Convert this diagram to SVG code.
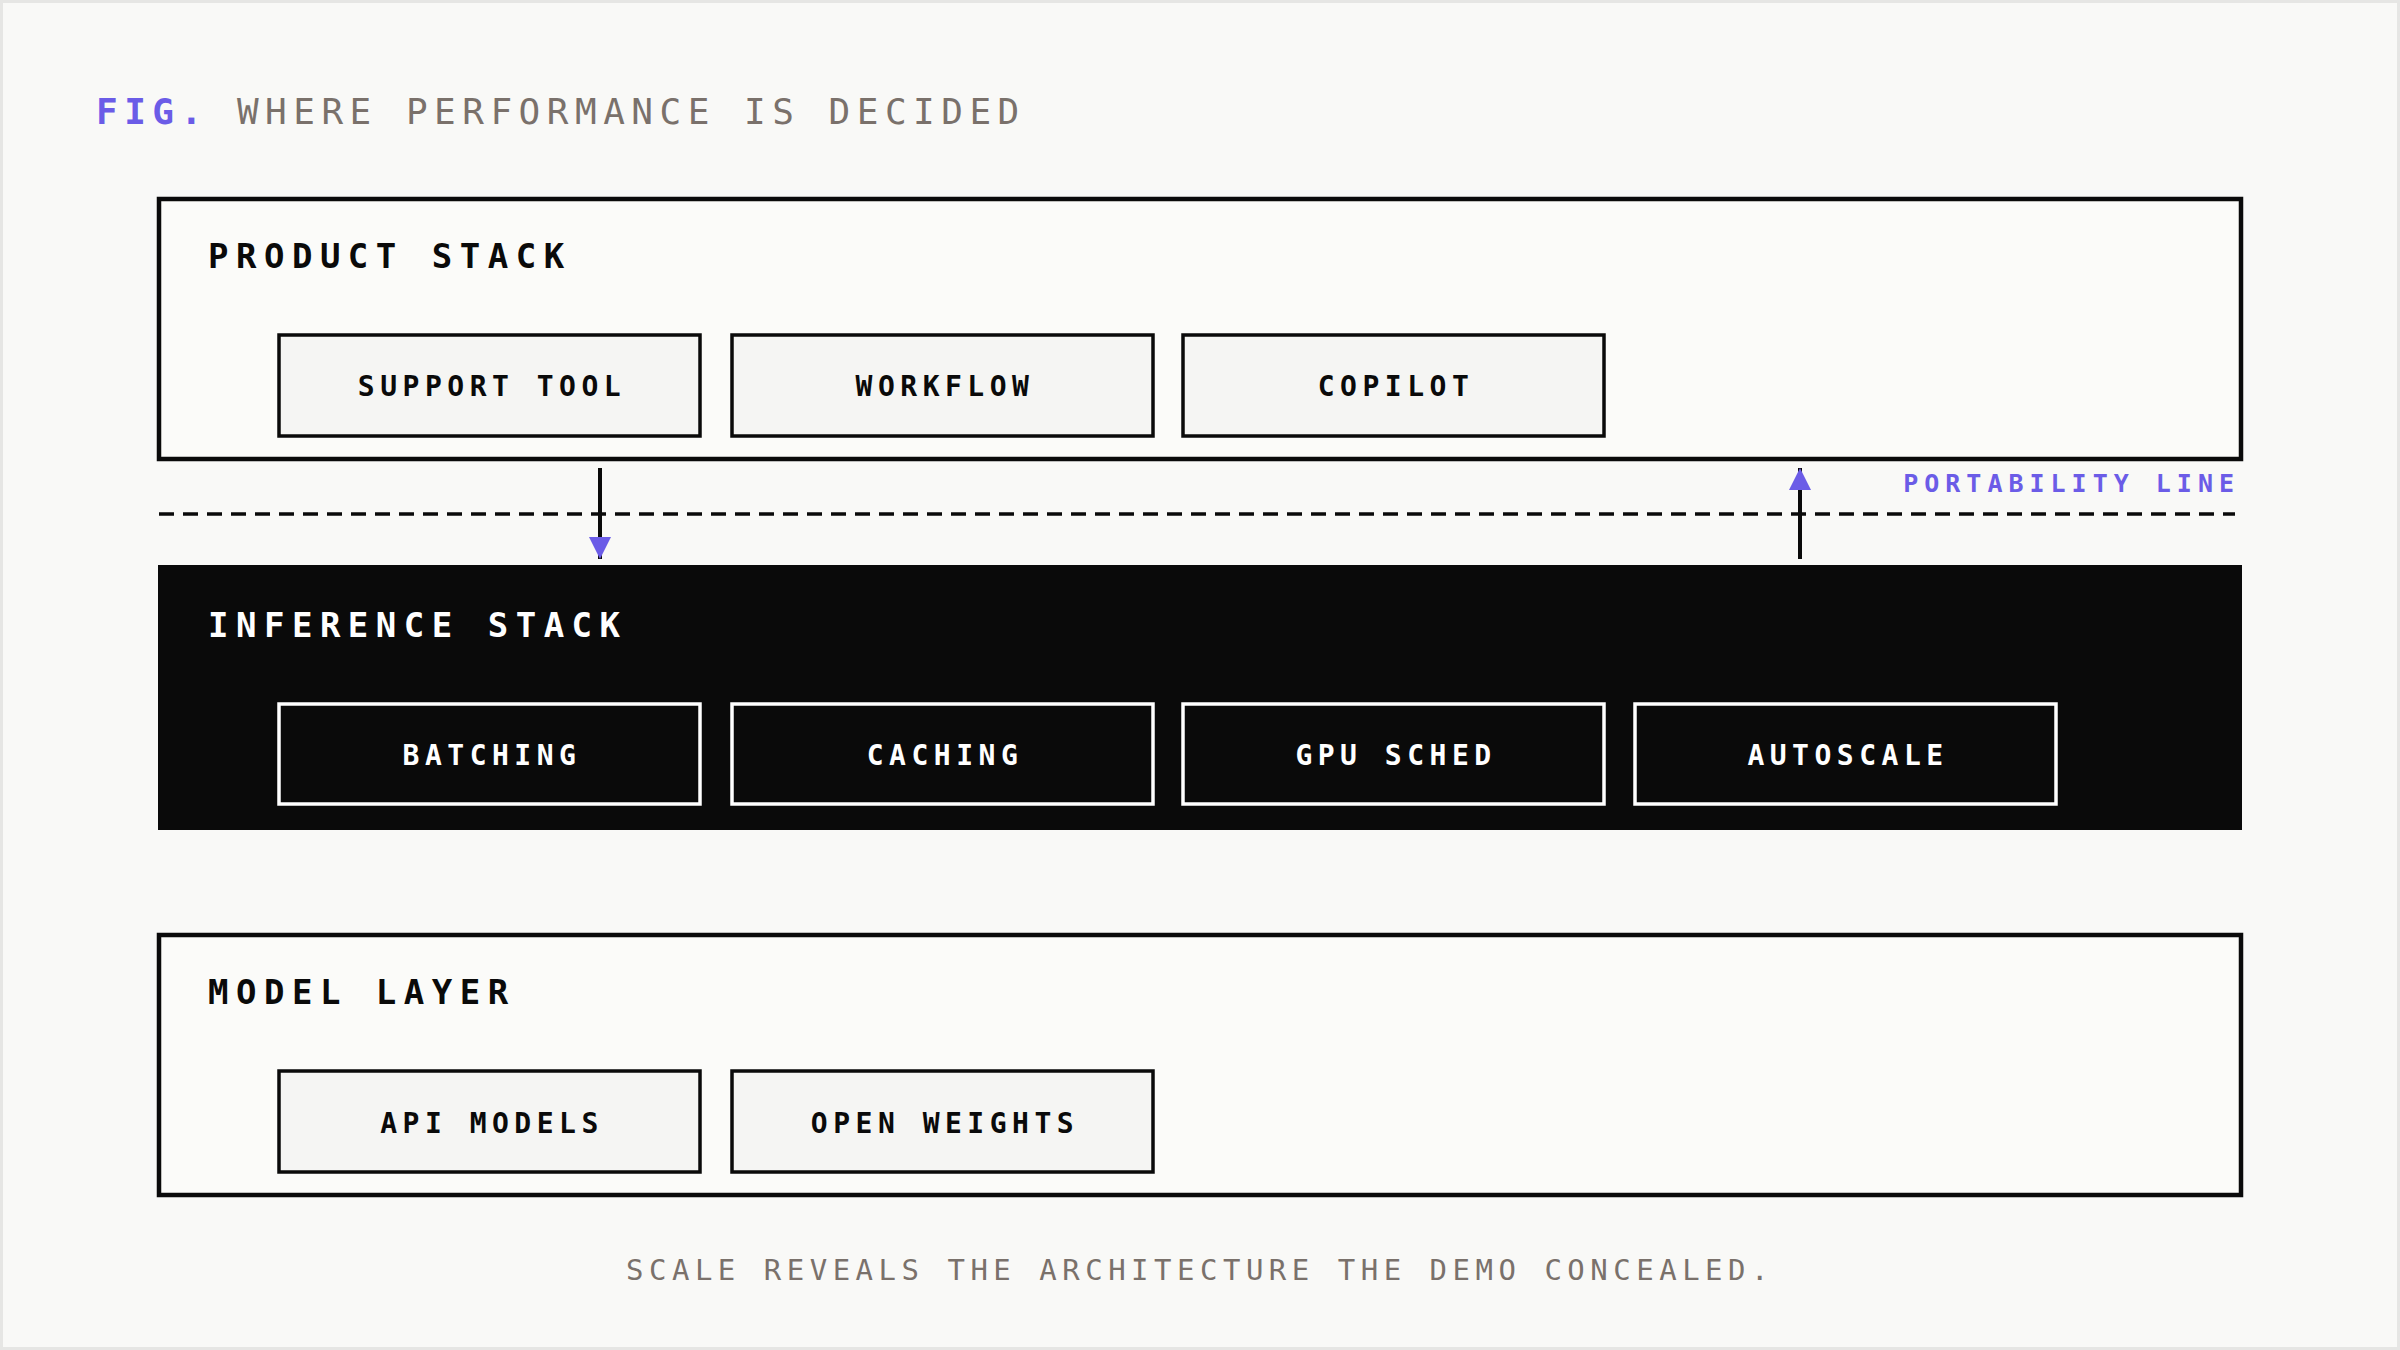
<svg xmlns="http://www.w3.org/2000/svg" width="2400" height="1350" viewBox="0 0 2400 1350">
<style>
.mono{font-family:"DejaVu Sans Mono","Liberation Mono",monospace}
.layer{font-size:34px;font-weight:bold;letter-spacing:7.5px}
.item{font-size:28px;font-weight:bold;letter-spacing:5.5px;text-anchor:middle}
.lb{fill:#f5f5f3;stroke:#0a0a0a;stroke-width:3.5}
.db{fill:#0a0a0a;stroke:#ffffff;stroke-width:3.5}
</style>
<defs>
<marker id="ah" viewBox="0 0 10 10" refX="10" refY="5" markerWidth="22" markerHeight="22" markerUnits="userSpaceOnUse" orient="auto"><path d="M0,0 L10,5 L0,10 z" fill="#6b5ce7"/></marker>
</defs>
<rect x="1.5" y="1.5" width="2397" height="1347" fill="#f9f9f7" stroke="#e6e6e4" stroke-width="3"/>
<text class="mono" x="96" y="124" font-size="36" letter-spacing="6.5"><tspan fill="#6b5ce7" font-weight="bold">FIG.</tspan><tspan fill="#7a716b"> WHERE PERFORMANCE IS DECIDED</tspan></text>
<g id="product-stack">
<rect x="159" y="199" width="2082" height="260" fill="#fbfbf9" stroke="#0a0a0a" stroke-width="4.5"/>
<text class="mono layer" x="208" y="268" fill="#0a0a0a">PRODUCT STACK</text>
</g>
<g id="support-tool"><rect class="lb" x="279" y="335" width="421" height="101"/><text class="mono item" x="492" y="396" fill="#0a0a0a">SUPPORT TOOL</text></g>
<g id="workflow"><rect class="lb" x="732" y="335" width="421" height="101"/><text class="mono item" x="945" y="396" fill="#0a0a0a">WORKFLOW</text></g>
<g id="copilot"><rect class="lb" x="1183" y="335" width="421" height="101"/><text class="mono item" x="1396" y="396" fill="#0a0a0a">COPILOT</text></g>
<g id="inference-stack">
<rect x="158" y="565" width="2084" height="265" fill="#0a0a0a"/>
<text class="mono layer" x="208" y="637" fill="#ffffff">INFERENCE STACK</text>
</g>
<g id="batching"><rect class="db" x="279" y="704" width="421" height="100"/><text class="mono item" x="492" y="765" fill="#ffffff">BATCHING</text></g>
<g id="caching"><rect class="db" x="732" y="704" width="421" height="100"/><text class="mono item" x="945" y="765" fill="#ffffff">CACHING</text></g>
<g id="gpu-sched"><rect class="db" x="1183" y="704" width="421" height="100"/><text class="mono item" x="1396" y="765" fill="#ffffff">GPU SCHED</text></g>
<g id="autoscale"><rect class="db" x="1635" y="704" width="421" height="100"/><text class="mono item" x="1848" y="765" fill="#ffffff">AUTOSCALE</text></g>
<g id="model-layer">
<rect x="159" y="935" width="2082" height="260" fill="#fbfbf9" stroke="#0a0a0a" stroke-width="4.5"/>
<text class="mono layer" x="208" y="1004" fill="#0a0a0a">MODEL LAYER</text>
</g>
<g id="api-models"><rect class="lb" x="279" y="1071" width="421" height="101"/><text class="mono item" x="492" y="1133" fill="#0a0a0a">API MODELS</text></g>
<g id="open-weights"><rect class="lb" x="732" y="1071" width="421" height="101"/><text class="mono item" x="945" y="1133" fill="#0a0a0a">OPEN WEIGHTS</text></g>
<g id="portability-line">
<line x1="159" y1="514" x2="2235" y2="514" stroke="#0a0a0a" stroke-width="3.5" stroke-dasharray="15 9"/>
<text class="mono" x="2240" y="492" font-size="25" font-weight="bold" letter-spacing="6" fill="#6b5ce7" text-anchor="end">PORTABILITY LINE</text>
</g>
<g id="connectors" stroke="#0a0a0a" stroke-width="4">
<line x1="600" y1="468" x2="600" y2="559" marker-end="url(#ah)"/>
<line x1="1800" y1="559" x2="1800" y2="468" marker-end="url(#ah)"/>
</g>
<text class="mono" x="1200" y="1280" font-size="29" letter-spacing="5.5" fill="#7a716b" text-anchor="middle">SCALE REVEALS THE ARCHITECTURE THE DEMO CONCEALED.</text>
</svg>
